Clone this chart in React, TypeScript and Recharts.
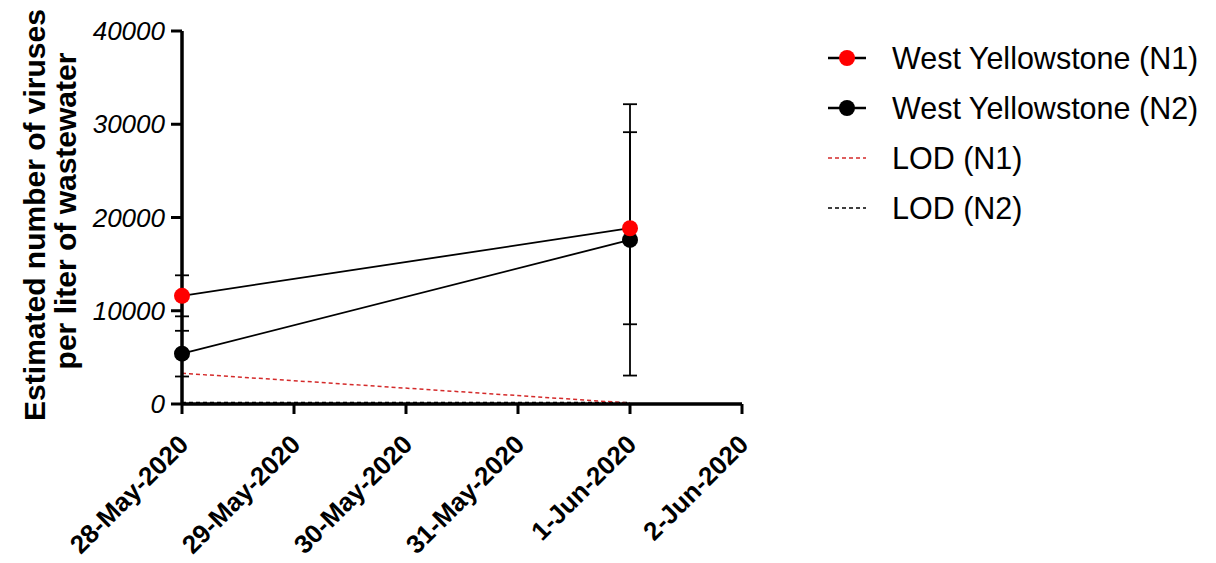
import { LineChart, Line, XAxis, YAxis, ErrorBar, Legend } from "recharts";

const FONT = "Arial, 'Liberation Sans', Helvetica, sans-serif";
const RED = "#ff0000";
const LOD_RED = "#d42a2a";

// x positions are day offsets from 28-May-2020
const dayLabels = ["28-May-2020", "29-May-2020", "30-May-2020", "31-May-2020", "1-Jun-2020", "2-Jun-2020"];
const dayTicks = [0, 1, 2, 3, 4, 5];
const sampleDays = [0, 4];
const n1Mean = [11600, 18850];
const n1Sd = [2200, 10300];
const n2Mean = [5400, 17600];
const n2Sd = [2450, 14550];
const lodN1 = [3300, 100];
const lodN2 = [150, 150];
const yTicks = [0, 10000, 20000, 30000, 40000];

const data = sampleDays.map((d, i) => ({
  day: d,
  n1: n1Mean[i],
  n1Err: n1Sd[i],
  n2: n2Mean[i],
  n2Err: n2Sd[i],
  lod1: lodN1[i],
  lod2: lodN2[i],
}));

const legendItems = [
  { label: "West Yellowstone (N1)", kind: "dot", color: RED },
  { label: "West Yellowstone (N2)", kind: "dot", color: "#000" },
  { label: "LOD (N1)", kind: "dash", color: LOD_RED },
  { label: "LOD (N2)", kind: "dash", color: "#000" },
];

function XTick(props: any) {
  const { x, y, payload } = props;
  const ax = x + 8;
  const ay = y + 30;
  return (
    <text
      x={ax}
      y={ay}
      transform={`rotate(-45, ${ax}, ${ay})`}
      textAnchor="end"
      fontFamily={FONT}
      fontWeight={700}
      fontSize={26}
      fill="#000"
    >
      {dayLabels[payload.value]}
    </text>
  );
}

function YTitle() {
  return (
    <g fontFamily={FONT} fontWeight={700} fontSize={30} fill="#000" textAnchor="middle">
      <text transform="translate(45, 215) rotate(-90)">Estimated number of viruses</text>
      <text transform="translate(76, 211) rotate(-90)">per liter of wastewater</text>
    </g>
  );
}

function LegendBox() {
  return (
    <div style={{ fontFamily: FONT, fontSize: 30.5, color: "#000" }}>
      {legendItems.map((it) => (
        <div key={it.label} style={{ display: "flex", alignItems: "center", height: 50 }}>
          <svg width={64} height={22} style={{ marginRight: 2 }}>
            {it.kind === "dot" ? (
              <>
                <line x1={2} x2={40} y1={11} y2={11} stroke="#000" strokeWidth={2.5} />
                <circle cx={21} cy={11} r={8} fill={it.color} />
              </>
            ) : (
              <line x1={2} x2={40} y1={11} y2={11} stroke={it.color} strokeWidth={1.5} strokeDasharray="4 3" />
            )}
          </svg>
          <span>{it.label}</span>
        </div>
      ))}
    </div>
  );
}

export default function App() {
  return (
    <div style={{ position: "absolute", left: 0, top: 0, width: 1216, height: 563, background: "#fff" }}>
      <LineChart width={1216} height={563} data={data} margin={{ top: 31, right: 474, bottom: 0, left: 0 }}>
        <XAxis
          dataKey="day"
          type="number"
          domain={[0, 5]}
          ticks={dayTicks}
          tick={<XTick />}
          height={159}
          axisLine={{ stroke: "#000", strokeWidth: 3.5 }}
          tickLine={{ stroke: "#000", strokeWidth: 3 }}
          tickSize={10}
          interval={0}
        />
        <YAxis
          type="number"
          domain={[0, 40000]}
          ticks={yTicks}
          width={182}
          axisLine={{ stroke: "#000", strokeWidth: 3.5 }}
          tickLine={{ stroke: "#000", strokeWidth: 3 }}
          tickSize={11}
          tickMargin={6}
          tick={{ fill: "#000", fontSize: 26, fontStyle: "italic", fontFamily: FONT }}
          label={{ content: () => <YTitle /> }}
        />
        <Legend
          layout="horizontal"
          verticalAlign="middle"
          content={() => <LegendBox />}
          wrapperStyle={{ left: 826, top: 33, width: 390 }}
        />
        <Line
          dataKey="lod2"
          stroke="#000"
          strokeWidth={1.5}
          strokeDasharray="4 3"
          dot={false}
          activeDot={false}
          isAnimationActive={false}
        />
        <Line
          dataKey="lod1"
          stroke={LOD_RED}
          strokeWidth={1.5}
          strokeDasharray="4 3"
          dot={false}
          activeDot={false}
          isAnimationActive={false}
        />
        <Line
          dataKey="n2"
          stroke="#000"
          strokeWidth={1.8}
          dot={{ r: 8, fill: "#000", stroke: "#000", strokeWidth: 0 }}
          activeDot={false}
          isAnimationActive={false}
        >
          <ErrorBar dataKey="n2Err" direction="y" width={7} stroke="#000" strokeWidth={1.8} isAnimationActive={false} />
        </Line>
        <Line
          dataKey="n1"
          stroke="#000"
          strokeWidth={1.8}
          dot={{ r: 8, fill: RED, stroke: RED, strokeWidth: 0 }}
          activeDot={false}
          isAnimationActive={false}
        >
          <ErrorBar dataKey="n1Err" direction="y" width={7} stroke="#000" strokeWidth={1.8} isAnimationActive={false} />
        </Line>
      </LineChart>
    </div>
  );
}
